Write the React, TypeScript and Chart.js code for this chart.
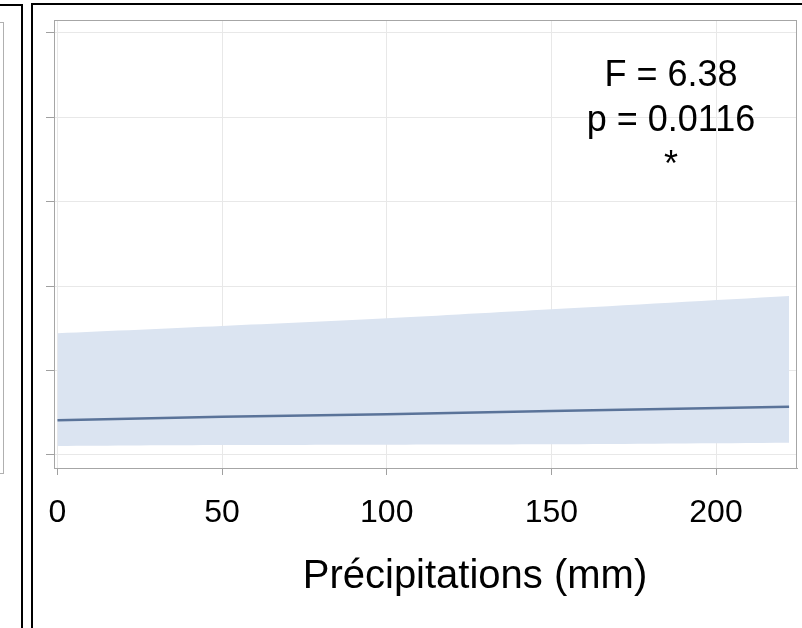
import React, { useEffect, useRef } from "react";
import { Chart, registerables } from "chart.js";

Chart.register(...registerables);

// Precipitation (mm) sample points along the fitted regression
const precipX = [0, 50, 100, 150, 222.2];
// Fitted line values (arbitrary response units; y axis has no labels)
const fitY = [0.411, 0.453, 0.482, 0.521, 0.572];
// 95% confidence band
const upperY = [1.441, 1.527, 1.618, 1.725, 1.883];
const lowerY = [0.107, 0.118, 0.122, 0.127, 0.146];

const xTicks = [0, 50, 100, 150, 200];
const yTicks = [0, 1, 2, 3, 4, 5];
const xMin = -1.06;
const xMax = 224.6;
const yMin = -0.154;
const yMax = 5.15;

const statLines = ["F = 6.38", "p = 0.0116", "*"];
const xTitle = "Précipitations (mm)";

const FONT = "'Liberation Sans', Arial, Helvetica, sans-serif";

export default function App() {
  const ref = useRef<HTMLCanvasElement | null>(null);

  useEffect(() => {
    document.body.style.margin = "0";
    const canvas = ref.current;
    if (!canvas) return;

    const framePlugin = {
      id: "frameAndText",
      afterDraw(chart: any) {
        const { ctx, chartArea } = chart;
        ctx.save();
        ctx.strokeStyle = "#a6a6a6";
        ctx.lineWidth = 1;
        ctx.strokeRect(
          Math.round(chartArea.left) + 0.5,
          Math.round(chartArea.top) + 0.5,
          Math.round(chartArea.right - chartArea.left) - 1,
          Math.round(chartArea.bottom - chartArea.top)
        );
        ctx.fillStyle = "#000";
        ctx.textAlign = "center";
        ctx.textBaseline = "alphabetic";
        ctx.font = `36px ${FONT}`;
        const baselines = [86, 131, 176];
        statLines.forEach((t, i) => ctx.fillText(t, 671, baselines[i]));
        ctx.font = `40px ${FONT}`;
        ctx.fillText(xTitle, 475, 588);
        ctx.restore();
      },
    };

    const chart = new Chart(canvas, {
      type: "line",
      data: {
        datasets: [
          {
            label: "fit",
            data: precipX.map((x, i) => ({ x, y: fitY[i] })),
            borderWidth: 2.5,
            pointRadius: 0,
            fill: false,
            borderColor: "#5a7399",
          },
          {
            label: "upper",
            data: precipX.map((x, i) => ({ x, y: upperY[i] })),
            borderWidth: 0,
            pointRadius: 0,
            fill: "+1",
            backgroundColor: "rgba(219,228,241,1)",
            borderColor: "rgba(0,0,0,0)",
            tension: 0.3,
          },
          {
            label: "lower",
            data: precipX.map((x, i) => ({ x, y: lowerY[i] })),
            borderWidth: 0,
            pointRadius: 0,
            fill: false,
            borderColor: "rgba(0,0,0,0)",
            tension: 0.3,
          },
        ],
      },
      options: {
        responsive: false,
        animation: false,
        devicePixelRatio: 1,
        layout: { padding: { left: 46, top: 20, right: 5, bottom: 0 } },
        plugins: {
          legend: { display: false },
          tooltip: { enabled: false },
        },
        scales: {
          x: {
            type: "linear",
            min: xMin,
            max: xMax,
            afterBuildTicks: (s: any) => {
              s.ticks = xTicks.map((v) => ({ value: v }));
            },
            afterFit: (s: any) => {
              s.height = 160;
            },
            grid: {
              color: "#e8e8e8",
              tickColor: "#a0a0a0",
              tickLength: 7,
              lineWidth: 1,
            },
            border: { display: true, color: "#a6a6a6", width: 1 },
            ticks: {
              color: "#000",
              font: { family: FONT, size: 32 },
              padding: 19,
              maxRotation: 0,
              autoSkip: false,
            },
          },
          y: {
            type: "linear",
            min: yMin,
            max: yMax,
            afterBuildTicks: (s: any) => {
              s.ticks = yTicks.map((v) => ({ value: v }));
            },
            afterFit: (s: any) => {
              s.width = 8;
            },
            grid: {
              color: "#e8e8e8",
              tickColor: "#a0a0a0",
              tickLength: 8,
              lineWidth: 1,
            },
            border: { display: true, color: "#a6a6a6", width: 1 },
            ticks: { display: false },
          },
        },
      },
      plugins: [framePlugin],
    });

    return () => chart.destroy();
  }, []);

  return (
    <div
      style={{
        position: "fixed",
        left: 0,
        top: 0,
        width: 802,
        height: 628,
        overflow: "hidden",
        background: "#fff",
      }}
    >
      {/* left neighbouring panel (partially visible) */}
      <div
        style={{
          position: "absolute",
          left: -40,
          top: 4,
          width: 59,
          height: 700,
          border: "2px solid #000",
        }}
      />
      <div
        style={{
          position: "absolute",
          left: -60,
          top: 22,
          width: 62,
          height: 450,
          border: "1px solid #b0b0b0",
        }}
      />
      {/* main panel border */}
      <div
        style={{
          position: "absolute",
          left: 31,
          top: 3,
          width: 900,
          height: 700,
          border: "2px solid #000",
        }}
      />
      <canvas
        ref={ref}
        width={802}
        height={628}
        style={{ position: "absolute", left: 0, top: 0, width: 802, height: 628 }}
      />
    </div>
  );
}
